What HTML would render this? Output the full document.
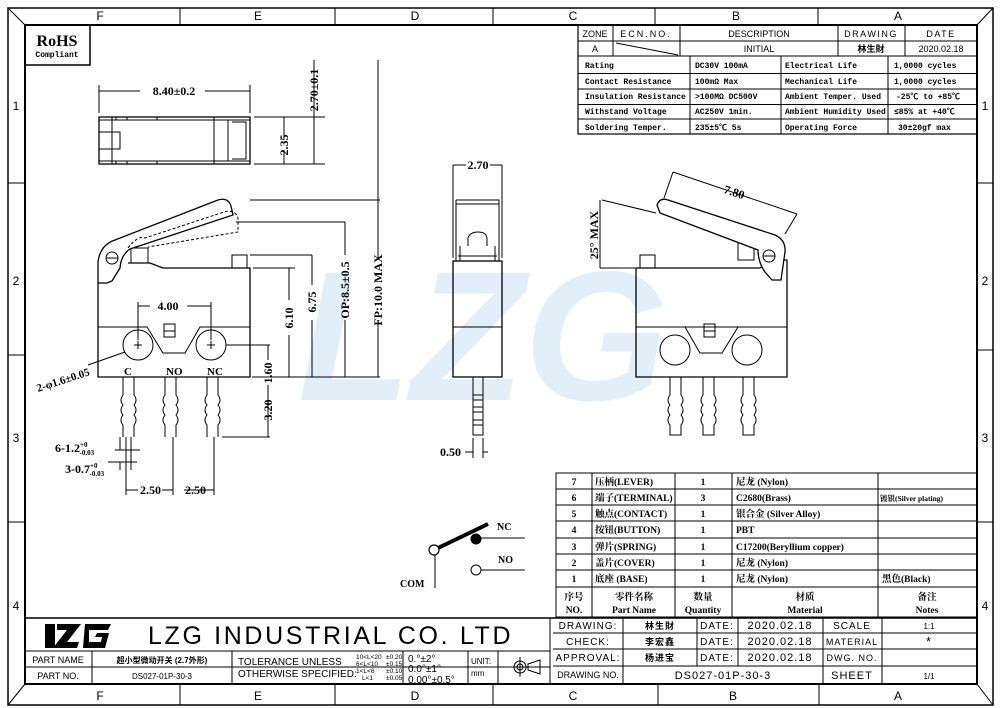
<!DOCTYPE html>
<html><head><meta charset="utf-8"><style>
html,body{margin:0;padding:0;background:#fff}
svg{display:block}
text{font-family:"Liberation Sans","Noto Sans CJK SC",sans-serif;fill:#000}
.s text,text.s{font-family:"Liberation Serif","Noto Serif CJK SC","Noto Sans CJK SC",serif;font-weight:bold}
.m text,text.m{font-family:"Liberation Mono","Noto Sans CJK SC",monospace;font-weight:bold}
</style></head><body>
<svg width="1000" height="708" viewBox="0 0 1000 708" xmlns="http://www.w3.org/2000/svg">
<!-- watermark -->
<text x="298" y="400" font-size="185" font-weight="bold" font-style="italic" style="fill:#e2eef8" textLength="370" lengthAdjust="spacingAndGlyphs">LZG</text>

<g fill="none" stroke="#000">
<rect x="8" y="8" width="985" height="697" stroke-width="1.5"/>
<rect x="25" y="25" width="952" height="659" stroke-width="2"/>
<line x1="8" y1="8" x2="25" y2="25"/><line x1="993" y1="8" x2="977" y2="25"/>
<line x1="8" y1="705" x2="25" y2="684"/><line x1="993" y1="705" x2="977" y2="684"/>
<path d="M180 8V25M335 8V25M493 8V25M655 8V25M818 8V25M180 684V705M335 684V705M493 684V705M658 684V705M819 684V705"/>
<path d="M8 183H25M8 355H25M8 522H25M977 183H993M977 350H993M977 522H993"/>
<rect x="25" y="25" width="65" height="40" stroke-width="1.5"/>

<rect x="578" y="25" width="399" height="109" stroke-width="1.2"/>
<path d="M578 41H977M578 56H977M578 73.5H977M578 89H977M578 104.5H977M578 119H977"/>
<path d="M613 25V56M680 25V56M838 25V56M905 25V56M690 56V134M781 56V134M888 56V134"/>
<line x1="616" y1="43" x2="678" y2="55"/>

<rect x="99" y="117" width="151" height="47" stroke-width="1.3"/>
<path d="M99 120H250M99 161H250M112 117V164M99 132H120V149H99M214 117V164M228 120V161M232 122H246V159H232"/>
<path d="M116 117v3M127 117v3M157 117v3M116 161v3M127 161v3M157 161v3"/>
<path d="M99 113V85M250 113V85M99 91H140M205 91H250M254 117H325M254 164H325M284 117V140M284 150V164M314 60V164"/>

<path d="M98 283V377H250V268H163L150 263H128" stroke-width="1.3"/>
<path d="M98 327H147L163 353H185L200 327H250"/>
<rect x="131" y="248" width="17" height="15"/>
<rect x="232" y="255" width="15" height="13"/>
<rect x="164" y="324" width="11" height="13"/><line x1="164" y1="331" x2="175" y2="331"/>
<circle cx="138" cy="345" r="15"/><circle cx="211" cy="345" r="15"/>
<path d="M138 341v8M134 345h8M211 341v8M207 345h8"/>
<path d="M107 283H98V262Q100 245 115 240L218 200Q228 197 231 206L233 215L130 249Q121 255 120 268L112 281Z" fill="#fff" stroke-width="1.3"/>
<circle cx="112" cy="258" r="6"/><line x1="106" y1="258" x2="118" y2="258"/>
<path d="M128 248Q138 235 145 238L224 212Q235 209 238 218V232L148 247" stroke-dasharray="3,2"/>
<path d="M123 377V395q-4 5 0 10q-4 5 0 10q-4 5 0 10V437M134 377V395q4 5 0 10q4 5 0 10q4 5 0 10V437M165 377V395q-4 5 0 10q-4 5 0 10q-4 5 0 10V437M176 377V395q4 5 0 10q4 5 0 10q4 5 0 10V437M207 377V395q-4 5 0 10q-4 5 0 10q-4 5 0 10V437M218 377V395q4 5 0 10q4 5 0 10q4 5 0 10V437"/>
<path d="M138 340V302M211 340V302M138 306H150M187 306H211M226 345H270M253 268H295M250 200H380M236 222H345M250 255H312M252 377H380M222 437H270"/>
<path d="M268 345V360M268 385V437M289 268V300M289 335V377M312 255V285M312 320V377M345 222V255M345 320V377M378 60V260M378 320V377"/>
<path d="M126 437V480M131 437V460M120 437V450M173 437V495M214 437V495M126 437V495M115 450H140M108 462H137M120 462V470M131 460V470M126 490H138M162 490H173M184 490H214"/>
<line x1="88" y1="365" x2="125" y2="352"/>

<rect x="453" y="261" width="49" height="116" stroke-width="1.3"/>
<line x1="453" y1="327" x2="502" y2="327"/>
<path d="M456 200H499V261M456 200V261M456 204H499M458 256H497M460 246V261M495 246V261M468 246V238Q470 232 478 232Q486 232 487 238V246"/>
<rect x="473" y="377" width="10" height="58"/>
<path d="M473 395h10M473 400h10M473 407h10M473 412h10M473 420h10M473 425h10"/>
<path d="M453 258V165M502 258V165M453 165H466M490 165H502M473 438V458M483 438V458M465 452H473M483 452H488"/>

<path d="M636 377V268H760L772 260L787 260V377Z" stroke-width="1.3"/>
<line x1="636" y1="327" x2="787" y2="327"/>
<path d="M636 327H685L700 353H722L738 327"/>
<circle cx="675" cy="350" r="15"/><circle cx="747" cy="350" r="15"/>
<rect x="704" y="324" width="11" height="13"/><line x1="704" y1="331" x2="715" y2="331"/>
<rect x="640" y="255" width="15" height="13"/>
<rect x="738" y="243" width="16" height="17"/>
<path d="M657 205Q660 197 668 200L775 235Q786 240 785 252L781 280H772L765 272Q758 262 758 250L660 213Z" fill="#fff" stroke-width="1.3"/>
<circle cx="769" cy="256" r="6"/><line x1="763" y1="256" x2="775" y2="256"/>
<path d="M656 213L602 200M600 200V268M600 268H635M664 198L673 172M785 234L797 214M673 172L797 214"/>
<path d="M670 377V395q-4 5 0 10q-4 5 0 10q-4 5 0 10V435H681V425q4 -5 0 -10q4 -5 0 -10q4 -5 0 -10V377M703 377V395q-4 5 0 10q-4 5 0 10q-4 5 0 10V435H714V425q4 -5 0 -10q4 -5 0 -10q4 -5 0 -10V377M743 377V395q-4 5 0 10q-4 5 0 10q-4 5 0 10V435H754V425q4 -5 0 -10q4 -5 0 -10q4 -5 0 -10V377"/>

<line x1="435" y1="555" x2="435" y2="588"/>
<line x1="438" y1="548" x2="488" y2="524" stroke-width="4"/>
<circle cx="434" cy="550" r="5" fill="#fff" stroke-width="1.2"/>
<circle cx="476" cy="539" r="5" fill="#000"/>
<line x1="480" y1="538" x2="525" y2="538"/>
<circle cx="476" cy="570" r="5" fill="#fff"/>
<line x1="481" y1="570" x2="525" y2="570"/>

<rect x="556" y="473" width="421" height="144"/>
<path d="M556 489H977M556 505H977M556 521H977M556 538H977M556 554H977M556 570H977M556 587H977"/>
<path d="M592 473V617M675 473V617M732 473V617M878 473V617"/>

<path d="M25 618H977" stroke-width="1.5"/>
<path d="M25 651H550M25 667H550M550 618V684M553 633H977M553 649H977M553 666H977"/>
<path d="M92 651V684M232 651V684M403 651V684M468 651V684M498 651V684"/>
<path d="M623 618V684M697 618V666M738 618V666M823 618V684M882 618V684"/>
<circle cx="520" cy="667" r="6"/><circle cx="520" cy="667" r="3"/><path d="M510 667H530M520 657V677M528 664L540 660V674L528 670Z"/>
</g>

<g transform="translate(45,622)">
<path d="M0 2H10V26H0Z M12 2H36L22 20H34L32 26H8L22 8H12Z M40 2H66L63 8H44V20H56L57 15H50L52 11H64L60 26H38Z" fill="#000"/>
</g>

<g font-size="12">
<text x="100" y="20" text-anchor="middle">F</text><text x="258" y="20" text-anchor="middle">E</text><text x="415" y="20" text-anchor="middle">D</text><text x="573" y="20" text-anchor="middle">C</text><text x="736" y="20" text-anchor="middle">B</text><text x="898" y="20" text-anchor="middle">A</text>
<text x="100" y="700" text-anchor="middle">F</text><text x="258" y="700" text-anchor="middle">E</text><text x="415" y="700" text-anchor="middle">D</text><text x="573" y="700" text-anchor="middle">C</text><text x="733" y="700" text-anchor="middle">B</text><text x="898" y="700" text-anchor="middle">A</text>
<text x="16" y="110" text-anchor="middle">1</text><text x="16" y="285" text-anchor="middle">2</text><text x="16" y="442" text-anchor="middle">3</text><text x="16" y="610" text-anchor="middle">4</text>
<text x="985" y="110" text-anchor="middle">1</text><text x="985" y="285" text-anchor="middle">2</text><text x="985" y="442" text-anchor="middle">3</text><text x="985" y="610" text-anchor="middle">4</text>
</g>
<text x="57" y="46" class="s" font-size="16" text-anchor="middle">RoHS</text>
<text x="57" y="57" class="m" font-size="8" text-anchor="middle">Compliant</text>

<g font-size="9">
<text x="595" y="37" text-anchor="middle">ZONE</text><text x="646" y="37" text-anchor="middle" letter-spacing="2">ECN.NO.</text><text x="759" y="37" text-anchor="middle">DESCRIPTION</text><text x="871" y="37" text-anchor="middle" letter-spacing="1.5">DRAWING</text><text x="941" y="37" text-anchor="middle" letter-spacing="1.5">DATE</text>
<text x="595" y="52" text-anchor="middle">A</text><text x="759" y="52" text-anchor="middle">INITIAL</text><text x="871" y="52" text-anchor="middle" font-weight="bold">林生財</text><text x="941" y="52" text-anchor="middle">2020.02.18</text>
</g>
<g class="m" font-size="8">
<text x="585" y="68">Rating</text><text x="695" y="68">DC30V 100mA</text><text x="785" y="68">Electrical Life</text><text x="894" y="68">1,0000 cycles</text>
<text x="585" y="84">Contact Resistance</text><text x="695" y="84">100mΩ Max</text><text x="785" y="84">Mechanical Life</text><text x="894" y="84">1,0000 cycles</text>
<text x="585" y="99">Insulation Resistance</text><text x="695" y="99">&gt;100MΩ DC500V</text><text x="785" y="99">Ambient Temper. Used</text><text x="896" y="99">-25℃ to +85℃</text>
<text x="585" y="114">Withstand Voltage</text><text x="695" y="114">AC250V  1min.</text><text x="785" y="114">Ambient Humidity Used</text><text x="894" y="114">≤85% at +40℃</text>
<text x="585" y="130">Soldering Temper.</text><text x="695" y="130">235±5℃ 5s</text><text x="785" y="130">Operating Force</text><text x="898" y="130">30±20gf max</text>
</g>

<g class="s" font-size="12">
<text x="174" y="95" text-anchor="middle">8.40±0.2</text>
<text transform="translate(288,145) rotate(-90)" text-anchor="middle">2.35</text>
<text transform="translate(318,90) rotate(-90)" text-anchor="middle">2.70±0.1</text>
<text x="168" y="310" text-anchor="middle">4.00</text>
<text transform="translate(272,373) rotate(-90)" text-anchor="middle">1.60</text>
<text transform="translate(272,410) rotate(-90)" text-anchor="middle">3.20</text>
<text transform="translate(293,318) rotate(-90)" text-anchor="middle">6.10</text>
<text transform="translate(316,302) rotate(-90)" text-anchor="middle">6.75</text>
<text transform="translate(349,290) rotate(-90)" text-anchor="middle">OP:8.5±0.5</text>
<text transform="translate(382,290) rotate(-90)" text-anchor="middle">FP:10.0 MAX</text>
<text transform="translate(38,392) rotate(-18)" font-size="11">2-φ1.6±0.05</text>
<text x="124" y="375" font-size="11">C</text><text x="166" y="375" font-size="11">NO</text><text x="207" y="375" font-size="11">NC</text>
<text x="55" y="452">6-1.2<tspan font-size="7" dy="-5">+0</tspan><tspan font-size="7" dx="-8" dy="8">-0.03</tspan></text>
<text x="65" y="473">3-0.7<tspan font-size="7" dy="-5">+0</tspan><tspan font-size="7" dx="-8" dy="8">-0.03</tspan></text>
<text x="140" y="494">2.50</text><text x="185" y="494">2.50</text>
<text x="478" y="169" text-anchor="middle">2.70</text>
<text x="440" y="456">0.50</text>
<text transform="translate(733,196) rotate(18)" text-anchor="middle">7.80</text>
<text transform="translate(598,235) rotate(-90)" text-anchor="middle">25° MAX</text>
<text x="497" y="530" font-size="10">NC</text><text x="498" y="563" font-size="10">NO</text><text x="400" y="587" font-size="10">COM</text>
</g>

<g class="s" font-size="9.5">
<text x="574" y="485" text-anchor="middle">7</text><text x="595" y="485">压柄(LEVER)</text><text x="703" y="485" text-anchor="middle">1</text><text x="736" y="485">尼龙 (Nylon)</text>
<text x="574" y="501" text-anchor="middle">6</text><text x="595" y="501">端子(TERMINAL)</text><text x="703" y="501" text-anchor="middle">3</text><text x="736" y="501">C2680(Brass)</text><text x="880" y="501" font-size="7.5">镀银(Silver plating)</text>
<text x="574" y="517" text-anchor="middle">5</text><text x="595" y="517">触点(CONTACT)</text><text x="703" y="517" text-anchor="middle">1</text><text x="736" y="517">银合金 (Silver Alloy)</text>
<text x="574" y="533" text-anchor="middle">4</text><text x="595" y="533">按钮(BUTTON)</text><text x="703" y="533" text-anchor="middle">1</text><text x="736" y="533">PBT</text>
<text x="574" y="550" text-anchor="middle">3</text><text x="595" y="550">弹片(SPRING)</text><text x="703" y="550" text-anchor="middle">1</text><text x="736" y="550">C17200(Beryllium copper)</text>
<text x="574" y="566" text-anchor="middle">2</text><text x="595" y="566">盖片(COVER)</text><text x="703" y="566" text-anchor="middle">1</text><text x="736" y="566">尼龙 (Nylon)</text>
<text x="574" y="582" text-anchor="middle">1</text><text x="595" y="582">底座 (BASE)</text><text x="703" y="582" text-anchor="middle">1</text><text x="736" y="582">尼龙 (Nylon)</text><text x="882" y="582">黑色(Black)</text>
<text x="574" y="600" text-anchor="middle">序号</text><text x="634" y="600" text-anchor="middle">零件名称</text><text x="703" y="600" text-anchor="middle">数量</text><text x="805" y="600" text-anchor="middle">材质</text><text x="927" y="600" text-anchor="middle">备注</text>
<text x="574" y="613" text-anchor="middle">NO.</text><text x="634" y="613" text-anchor="middle">Part Name</text><text x="703" y="613" text-anchor="middle">Quantity</text><text x="805" y="613" text-anchor="middle">Material</text><text x="927" y="613" text-anchor="middle">Notes</text>
</g>

<text x="148" y="644" font-size="25" letter-spacing="2.5" textLength="365" lengthAdjust="spacing">LZG INDUSTRIAL CO. LTD</text>
<g font-size="9">
<text x="58" y="663" text-anchor="middle">PART NAME</text><text x="58" y="679" text-anchor="middle">PART NO.</text>
<text x="162" y="663" text-anchor="middle" font-size="8" font-weight="bold">超小型微动开关 (2.7外形)</text>
<text x="162" y="679" text-anchor="middle" font-size="8">DS027-01P-30-3</text>
<text x="238" y="665" font-size="10">TOLERANCE UNLESS</text><text x="238" y="677" font-size="10">OTHERWISE SPECIFIED:</text>
<g font-size="6.5"><text x="356" y="659">10&lt;L&lt;20</text><text x="386" y="659">±0.20</text><text x="356" y="666">6&lt;L&lt;10</text><text x="386" y="666">±0.15</text><text x="356" y="673">1&lt;L&lt;6</text><text x="386" y="673">±0.10</text><text x="362" y="680">L&lt;1</text><text x="386" y="680">±0.05</text></g>
<text x="408" y="662" font-size="10">0.°±2°</text><text x="408" y="672" font-size="10">0.0°±1°</text><text x="408" y="683" font-size="10">0.00°±0.5°</text>
<text x="471" y="664" font-size="8">UNIT:</text><text x="471" y="676" font-size="8">mm</text>
</g>
<g font-size="10" letter-spacing="1">
<text x="588" y="629" text-anchor="middle">DRAWING:</text><text x="588" y="645" text-anchor="middle">CHECK:</text><text x="588" y="661" text-anchor="middle">APPROVAL:</text><text x="588" y="678" text-anchor="middle" font-size="9" letter-spacing="0">DRAWING NO.</text>
<text x="660" y="629" text-anchor="middle" font-weight="bold" font-size="9">林生財</text><text x="660" y="645" text-anchor="middle" font-weight="bold" font-size="9">李宏鑫</text><text x="660" y="661" text-anchor="middle" font-weight="bold" font-size="9">杨进宝</text>
<text x="717" y="629" text-anchor="middle">DATE:</text><text x="717" y="645" text-anchor="middle">DATE:</text><text x="717" y="661" text-anchor="middle">DATE:</text>
<text x="780" y="629" text-anchor="middle" font-size="11">2020.02.18</text><text x="780" y="645" text-anchor="middle" font-size="11">2020.02.18</text><text x="780" y="661" text-anchor="middle" font-size="11">2020.02.18</text>
<text x="723" y="679" text-anchor="middle" font-size="11">DS027-01P-30-3</text>
<text x="852" y="629" text-anchor="middle">SCALE</text><text x="852" y="645" text-anchor="middle" font-size="9">MATERIAL</text><text x="852" y="661" text-anchor="middle" font-size="9">DWG. NO.</text><text x="852" y="679" text-anchor="middle" font-size="11">SHEET</text>
<text x="929" y="629" text-anchor="middle" font-size="8" letter-spacing="0">1:1</text><text x="929" y="646" text-anchor="middle" font-size="13">*</text><text x="929" y="679" text-anchor="middle" font-size="8" letter-spacing="0">1/1</text>
</g>
</svg>
</body></html>
